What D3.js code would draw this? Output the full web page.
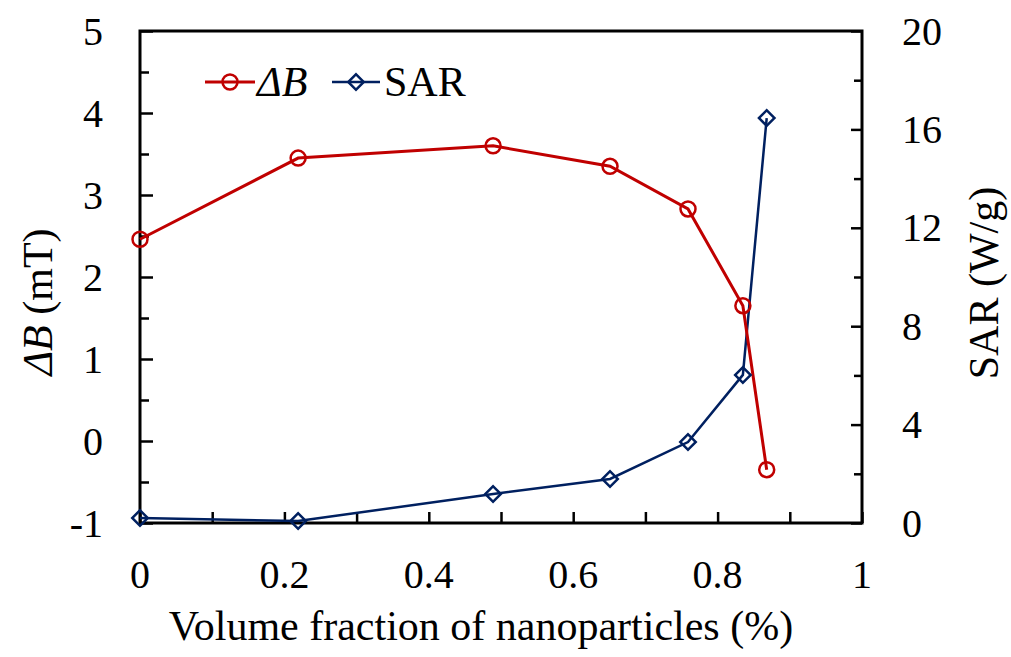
<!DOCTYPE html>
<html>
<head>
<meta charset="utf-8">
<script src="https://cdn.jsdelivr.net/npm/d3@7"></script>
<style>
  html, body { margin: 0; padding: 0; background: #fff; }
  #chart, #chart text, #chart tspan { font-family: "Liberation Serif", "Times New Roman", serif !important; }
</style>
</head>
<body>
<svg id="chart" width="1011" height="657"></svg>
<script>
// Volume fraction of nanoparticles (%)
const volumeFraction = [0, 0.219, 0.489, 0.651, 0.759, 0.835, 0.868];
// Magnetic field change ΔB (mT)
const deltaB = [2.46, 3.45, 3.60, 3.35, 2.83, 1.65, -0.35];
// Specific absorption rate (W/g)
const sar = [0.2, 0.08, 1.18, 1.79, 3.29, 6.02, 16.46];

const xTickLabels = [0, 0.2, 0.4, 0.6, 0.8, 1];
const leftTickLabels = [-1, 0, 1, 2, 3, 4, 5];
const rightTickLabels = [0, 4, 8, 12, 16, 20];

const RED = "#C00000", BLUE = "#002060";
const FONT = "Liberation Serif";
const svg = d3.select("#chart");
const m = { left: 140, right: 862, top: 31, bottom: 523 };

const x = d3.scaleLinear().domain([0, 1]).range([m.left, m.right]);
const yL = d3.scaleLinear().domain([-1, 5]).range([m.bottom, m.top]);
const yR = d3.scaleLinear().domain([0, 20]).range([m.bottom, m.top]);

const tickFont = 40;
const titleFont = 42;

function styleTicks(g) {
  g.select(".domain").remove();
  g.selectAll("line").attr("stroke", "#000").attr("stroke-width", 2.5);
}
function serif(sel) {
  sel.attr("font-family", FONT).style("font-family", FONT);
}

// bottom axis: inward ticks every 0.1, labels every 0.2
svg.append("g").attr("transform", `translate(0,${m.bottom})`)
  .call(d3.axisBottom(x).tickValues(d3.range(0, 1.0001, 0.1)).tickSizeInner(-11).tickSizeOuter(0).tickFormat(""))
  .call(styleTicks);
svg.append("g").selectAll("text").data(xTickLabels).join("text")
  .call(serif)
  .attr("x", d => x(d)).attr("y", 588)
  .attr("text-anchor", "middle").attr("font-size", tickFont)
  .text(d => d);

// left axis: major ticks at integers, minor at halves
const leftMinor = d3.range(-0.5, 5, 1);
svg.append("g").attr("transform", `translate(${m.left},0)`)
  .call(d3.axisLeft(yL).tickValues(leftTickLabels).tickSizeInner(-13).tickSizeOuter(0).tickFormat(""))
  .call(styleTicks);
svg.append("g").attr("transform", `translate(${m.left},0)`)
  .call(d3.axisLeft(yL).tickValues(leftMinor).tickSizeInner(-9).tickSizeOuter(0).tickFormat(""))
  .call(styleTicks);
svg.append("g").selectAll("text").data(leftTickLabels).join("text")
  .call(serif)
  .attr("x", 103).attr("y", d => yL(d)).attr("dy", "0.34em")
  .attr("text-anchor", "end").attr("font-size", tickFont)
  .text(d => d);

// right axis: major ticks every 4, minor every 2
const rightMinor = d3.range(2, 20, 4);
svg.append("g").attr("transform", `translate(${m.right},0)`)
  .call(d3.axisRight(yR).tickValues(rightTickLabels).tickSizeInner(-11).tickSizeOuter(0).tickFormat(""))
  .call(styleTicks);
svg.append("g").attr("transform", `translate(${m.right},0)`)
  .call(d3.axisRight(yR).tickValues(rightMinor).tickSizeInner(-8).tickSizeOuter(0).tickFormat(""))
  .call(styleTicks);
svg.append("g").selectAll("text").data(rightTickLabels).join("text")
  .call(serif)
  .attr("x", 902).attr("y", d => yR(d)).attr("dy", "0.34em")
  .attr("text-anchor", "start").attr("font-size", tickFont)
  .text(d => d);

// plot frame
svg.append("rect")
  .attr("x", m.left).attr("y", m.top)
  .attr("width", m.right - m.left).attr("height", m.bottom - m.top)
  .attr("fill", "none").attr("stroke", "#000").attr("stroke-width", 3);

// axis titles
svg.append("text").call(serif).attr("x", 481).attr("y", 640).attr("text-anchor", "middle")
  .attr("font-size", titleFont).text("Volume fraction of nanoparticles (%)");
const lt = svg.append("text").call(serif).attr("transform", "translate(52,302) rotate(-90)")
  .attr("text-anchor", "middle").attr("font-size", titleFont);
lt.append("tspan").attr("font-style", "italic").text("ΔB");
lt.append("tspan").text(" (mT)");
svg.append("text").call(serif).attr("transform", "translate(998,283) rotate(-90)")
  .attr("text-anchor", "middle").attr("font-size", titleFont).text("SAR (W/g)");

// series
const pts = volumeFraction.map((v, i) => ({ v, b: deltaB[i], s: sar[i] }));
const lineB = d3.line().x(d => x(d.v)).y(d => yL(d.b));
const lineS = d3.line().x(d => x(d.v)).y(d => yR(d.s));

svg.append("path").datum(pts).attr("d", lineS)
  .attr("fill", "none").attr("stroke", BLUE).attr("stroke-width", 2.5);
svg.append("path").datum(pts).attr("d", lineB)
  .attr("fill", "none").attr("stroke", RED).attr("stroke-width", 3);

const diamond = d3.symbol().type(d3.symbolSquare).size(120);
svg.append("g").selectAll("path").data(pts).join("path")
  .attr("d", diamond)
  .attr("transform", d => `translate(${x(d.v)},${yR(d.s)}) rotate(45)`)
  .attr("fill", "none").attr("stroke", BLUE).attr("stroke-width", 2.5);
svg.append("g").selectAll("circle").data(pts).join("circle")
  .attr("cx", d => x(d.v)).attr("cy", d => yL(d.b)).attr("r", 7.5)
  .attr("fill", "none").attr("stroke", RED).attr("stroke-width", 2.5);

// legend
const leg = svg.append("g");
leg.append("line").attr("x1", 205).attr("x2", 255).attr("y1", 82).attr("y2", 82)
  .attr("stroke", RED).attr("stroke-width", 3);
leg.append("circle").attr("cx", 230).attr("cy", 82).attr("r", 7.5)
  .attr("fill", "none").attr("stroke", RED).attr("stroke-width", 2.5);
leg.append("text").call(serif).attr("x", 257).attr("y", 96).attr("font-size", 42)
  .attr("font-style", "italic").text("ΔB");
leg.append("line").attr("x1", 332).attr("x2", 380).attr("y1", 82).attr("y2", 82)
  .attr("stroke", BLUE).attr("stroke-width", 2.5);
leg.append("path").attr("d", diamond).attr("transform", "translate(356,82) rotate(45)")
  .attr("fill", "none").attr("stroke", BLUE).attr("stroke-width", 2.5);
leg.append("text").call(serif).attr("x", 384).attr("y", 96).attr("font-size", 42).text("SAR");
</script>
</body>
</html>
